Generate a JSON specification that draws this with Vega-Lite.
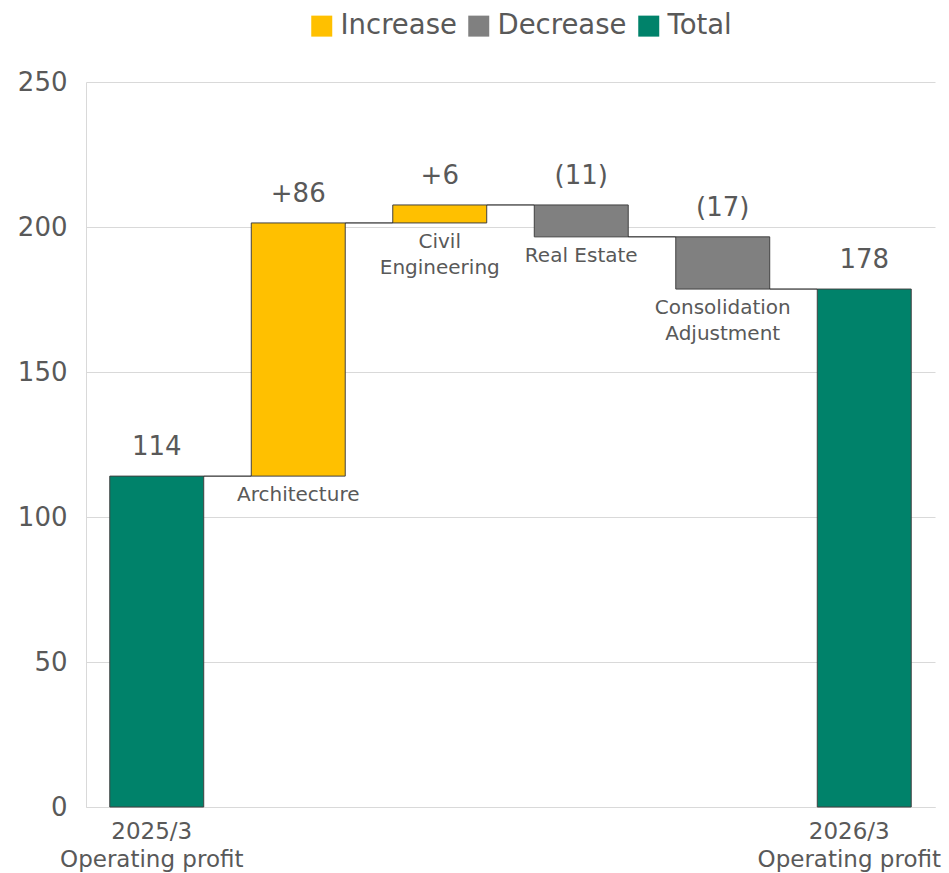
{
  "$schema": "https://vega.github.io/schema/vega-lite/v6.json",
  "width": 849,
  "height": 725,
  "autosize": "none",
  "padding": {"left": 86, "top": 82, "right": 14, "bottom": 66},
  "config": {
    "font": "DejaVu Sans",
    "view": {"stroke": null},
    "axis": {"labelColor": "#595959", "domainColor": "#D9D9D9", "gridColor": "#D9D9D9", "ticks": false, "title": null}
  },
  "datasets": {
    "bars": [
      {"cat": "2025/3|Operating profit", "label": "", "type": "Total", "start": 0, "end": 114.1, "hi": 114.1, "lo": 0, "text": "114"},
      {"cat": "Architecture", "label": "Architecture", "type": "Increase", "start": 114.1, "end": 201.4, "hi": 201.4, "lo": 114.1, "text": "+86"},
      {"cat": "Civil Engineering", "label": "Civil|Engineering", "type": "Increase", "start": 201.4, "end": 207.6, "hi": 207.6, "lo": 201.4, "text": "+6"},
      {"cat": "Real Estate", "label": "Real Estate", "type": "Decrease", "start": 207.6, "end": 196.6, "hi": 207.6, "lo": 196.6, "text": "(11)"},
      {"cat": "Consolidation Adjustment", "label": "Consolidation|Adjustment", "type": "Decrease", "start": 196.6, "end": 178.6, "hi": 196.6, "lo": 178.6, "text": "(17)"},
      {"cat": "2026/3|Operating profit", "label": "", "type": "Total", "start": 0, "end": 178.6, "hi": 178.6, "lo": 0, "text": "178"}
    ],
    "links": [
      {"from": "2025/3|Operating profit", "to": "Architecture", "level": 114.1},
      {"from": "Architecture", "to": "Civil Engineering", "level": 201.4},
      {"from": "Civil Engineering", "to": "Real Estate", "level": 207.6},
      {"from": "Real Estate", "to": "Consolidation Adjustment", "level": 196.6},
      {"from": "Consolidation Adjustment", "to": "2026/3|Operating profit", "level": 178.6}
    ]
  },
  "layer": [
    {
      "data": {"name": "bars"},
      "mark": {"type": "bar", "stroke": "#404040", "strokeWidth": 1},
      "encoding": {
        "x": {
          "field": "cat", "type": "nominal", "sort": null,
          "scale": {
            "domain": ["2025/3|Operating profit", "Architecture", "Civil Engineering", "Real Estate", "Consolidation Adjustment", "2026/3|Operating profit"],
            "paddingInner": 0.336, "paddingOuter": 0.168
          },
          "axis": {
            "labelExpr": "indexof(datum.value, '|') >= 0 ? split(datum.value, '|') : ''",
            "labelAngle": 0, "labelFontSize": 23, "labelLineHeight": 28, "labelPadding": 13,
            "labelOverlap": false, "labelBound": false, "labelFlush": false, "labelLimit": 0,
            "labelOffset": {
              "condition": [
                {"test": "datum.value == '2026/3|Operating profit'", "value": -15},
                {"test": "datum.value == '2025/3|Operating profit'", "value": -5}
              ],
              "value": 0
            }
          }
        },
        "y": {
          "field": "start", "type": "quantitative",
          "scale": {"domain": [0, 250], "nice": false},
          "axis": {"values": [0, 50, 100, 150, 200, 250], "labelFontSize": 26, "labelPadding": 19, "grid": true}
        },
        "y2": {"field": "end"},
        "color": {
          "field": "type", "type": "nominal",
          "scale": {"domain": ["Increase", "Decrease", "Total"], "range": ["#FFC000", "#808080", "#00826A"]},
          "legend": {
            "title": null, "orient": "none", "direction": "horizontal",
            "legendX": 222, "legendY": -70,
            "symbolType": "square", "symbolSize": 441, "symbolStrokeWidth": 0, "symbolOpacity": 1,
            "labelFontSize": 27.5, "labelColor": "#595959", "labelOffset": 5, "columnPadding": 8
          }
        }
      }
    },
    {
      "data": {"name": "links"},
      "mark": {"type": "rule", "color": "#000000", "strokeWidth": 1},
      "encoding": {
        "x": {"field": "from", "type": "nominal", "bandPosition": 1},
        "x2": {"field": "to", "bandPosition": 0},
        "y": {"field": "level", "type": "quantitative"}
      }
    },
    {
      "data": {"name": "bars"},
      "mark": {"type": "text", "fontSize": 26, "color": "#595959", "baseline": "alphabetic", "dy": -21},
      "encoding": {
        "x": {"field": "cat", "type": "nominal"},
        "y": {"field": "hi", "type": "quantitative"},
        "text": {"field": "text"}
      }
    },
    {
      "data": {"name": "bars"},
      "mark": {"type": "text", "fontSize": 20, "color": "#595959", "baseline": "top", "dy": 9, "lineBreak": "|", "lineHeight": 26},
      "encoding": {
        "x": {"field": "cat", "type": "nominal"},
        "y": {"field": "lo", "type": "quantitative"},
        "text": {"field": "label"}
      }
    }
  ]
}
